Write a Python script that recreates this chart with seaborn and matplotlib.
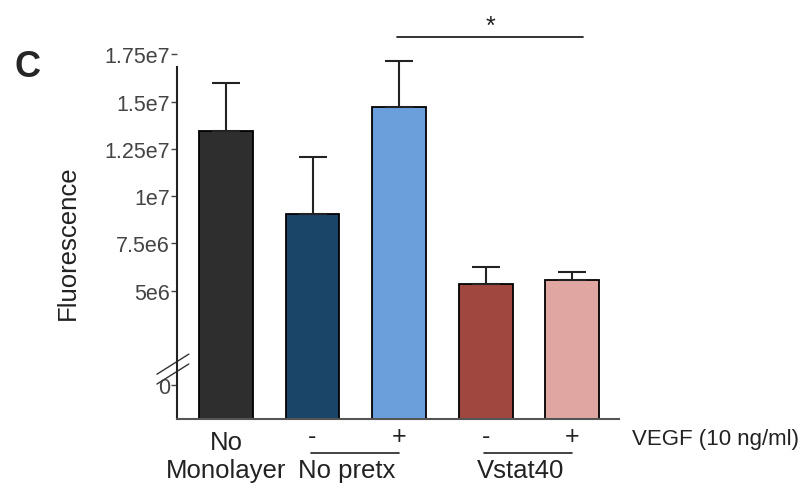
import numpy as np
import pandas as pd
import matplotlib
matplotlib.use("Agg")
import matplotlib.pyplot as plt
import matplotlib.transforms as mtransforms
import seaborn as sns

# DỮ LIỆU
groups = ["No Monolayer", "No pretx -", "No pretx +", "Vstat40 -", "Vstat40 +"]
means = [1.346e7, 9.05e6, 1.473e7, 5.33e6, 5.55e6]
upper = [1.60e7, 1.207e7, 1.713e7, 6.22e6, 6.0e6]
colors = ["#2e2e2e", "#1b4469", "#6a9fdc", "#a0483f", "#dfa6a2"]
vegf = ["", "-", "+", "-", "+"]
yticks = [0, 5e6, 7.5e6, 1e7, 1.25e7, 1.5e7, 1.75e7]
ytick_labels = ["0", "5e6", "7.5e6", "1e7", "1.25e7", "1.5e7", "1.75e7"]

sns.set_style("white")
plt.rcParams["font.family"] = ["Liberation Sans", "DejaVu Sans"]

df = pd.DataFrame({"group": groups, "mean": means})

fig = plt.figure(figsize=(8.04, 4.89), dpi=100)
ax = fig.add_axes([0.220, 0.141, 0.550, 0.746])

ymin = -1.8e6
sns.barplot(data=df, x="group", y="mean", hue="group", palette=colors,
            saturation=1, errorbar=None, width=0.62, edgecolor="black",
            linewidth=1.3, legend=False, ax=ax)

# cột bắt đầu từ đáy trục (trục bị ngắt)
for p, v in zip(ax.patches, means):
    p.set_y(ymin)
    p.set_height(v - ymin)

# thanh sai số chỉ phía trên
x = np.arange(len(groups))
err = np.array(upper) - np.array(means)
ax.errorbar(x, means, yerr=[np.zeros(len(err)), err], fmt="none",
            ecolor="#222222", elinewidth=1.5, capsize=10, capthick=1.5)

ax.set_ylim(ymin, 1.75e7)
ax.set_xlim(-0.566, 4.54)
ax.set_yticks(yticks)
ax.set_yticklabels(ytick_labels, fontsize=15.5, color="#444444")
ax.tick_params(axis="y", direction="out", length=4, width=1, color="#444444",
               left=True, pad=1)
ax.set_xticks([])
ax.set_xlabel("")
ax.set_ylabel("Fluorescence", fontsize=18.5, color="#222222")
ax.yaxis.set_label_coords(-0.219, 0.485)

for s in ["top", "right"]:
    ax.spines[s].set_visible(False)
ax.spines["left"].set_bounds(ymin, 1.68e7)
ax.spines["left"].set_linewidth(1.5)
ax.spines["left"].set_color("#222222")
ax.spines["bottom"].set_linewidth(1.5)
ax.spines["bottom"].set_color("#555555")

# dấu ngắt trục
for y0, y1 in [(0.123, 0.178), (0.096, 0.151)]:
    ax.plot([-0.045, 0.027], [y0, y1], transform=ax.transAxes,
            color="#333333", lw=1, clip_on=False)

# nhãn dưới trục x
trans = mtransforms.blended_transform_factory(ax.transData, ax.transAxes)
ax.text(0, -0.082, "No", transform=trans, ha="center", va="baseline",
        fontsize=18.5, color="#222222")
ax.text(0, -0.159, "Monolayer", transform=trans, ha="center", va="baseline",
        fontsize=18.5, color="#222222")
for xi, s in zip(x, vegf):
    if s:
        ax.text(xi, -0.066, s, transform=trans, ha="center", va="baseline",
                fontsize=18, color="#222222")
for a, b, name in [(1, 2, "No pretx"), (3, 4, "Vstat40")]:
    ax.plot([a - 0.02, b], [-0.093, -0.093], transform=trans,
            color="#222222", lw=1.2, clip_on=False)
    ax.text((a + b) / 2 - 0.1, -0.159, name, transform=trans, ha="center",
            va="baseline", fontsize=18.5, color="#222222")
ax.text(1.03, -0.068, "VEGF (10 ng/ml)", transform=ax.transAxes, ha="left",
        va="baseline", fontsize=16, color="#222222")

# dấu sao ý nghĩa thống kê
ax.plot([1.98, 4.12], [1.84e7, 1.84e7], color="#222222", lw=1.3,
        clip_on=False)
ax.text(3.05, 1.865e7, "*", ha="center", va="baseline", fontsize=18,
        color="#222222")

fig.text(0.034, 0.861, "C", fontsize=26, fontweight="bold", ha="center",
         va="center")

fig.savefig("out.png", dpi=100)
